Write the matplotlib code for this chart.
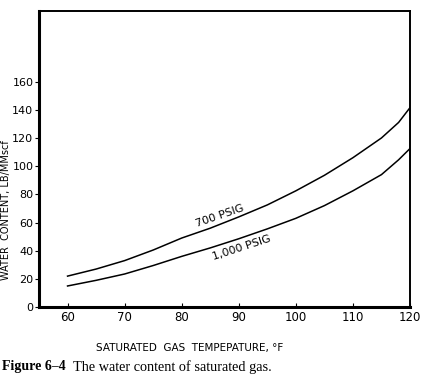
import matplotlib
matplotlib.use("Agg")
import matplotlib.pyplot as plt

# values (°F -> lb/MMscf)
temp_f = [60, 65, 70, 75, 80, 85, 90, 95, 100, 105, 110, 115, 118, 120]
water_700 = [22, 27, 33, 40.5, 49, 56, 64, 72.5, 82.5, 93.5, 106, 120, 131, 141.5]
water_1000 = [15, 19, 23.5, 29.5, 36, 42, 48.5, 55.5, 63, 72, 82.5, 94, 104.5, 112.5]
x_ticks = [60, 70, 80, 90, 100, 110, 120]
y_ticks = [0, 20, 40, 60, 80, 100, 120, 140, 160]

fig = plt.figure(figsize=(4.24, 3.82), dpi=100)
ax = fig.add_axes([0.092, 0.196, 0.875, 0.775])

ax.plot(temp_f, water_700, color="black", linewidth=1.1)
ax.plot(temp_f, water_1000, color="black", linewidth=1.1)

ax.set_xlim(55, 120)
ax.set_ylim(0, 210)
ax.set_xticks(x_ticks)
ax.set_yticks(y_ticks)
ax.tick_params(axis="x", direction="in", length=3, pad=3, labelsize=8.5)
ax.tick_params(axis="y", direction="out", length=3, pad=1, labelsize=8)

for side in ["left", "bottom"]:
    ax.spines[side].set_linewidth(2.2)
for side in ["top", "right"]:
    ax.spines[side].set_linewidth(1.4)

ax.text(86.6, 65, "700 PSIG", rotation=19, ha="center", va="center", fontsize=8)
ax.text(90.5, 42, "1,000 PSIG", rotation=18, ha="center", va="center", fontsize=8)

fig.text(0.014, 0.45, "WATER  CONTENT, LB/MMscf", rotation=90, ha="center",
         va="center", fontsize=7)
fig.text(0.448, 0.089, "SATURATED  GAS  TEMPEPATURE, °F", ha="center",
         va="center", fontsize=7.5)
fig.text(0.005, 0.04, "Figure 6\u20134", ha="left", va="center", fontsize=10,
         fontweight="bold", family="Liberation Serif")
fig.text(0.172, 0.04, "The water content of saturated gas.", ha="left",
         va="center", fontsize=10.3, family="Liberation Serif")

fig.savefig("out.png", dpi=100)
